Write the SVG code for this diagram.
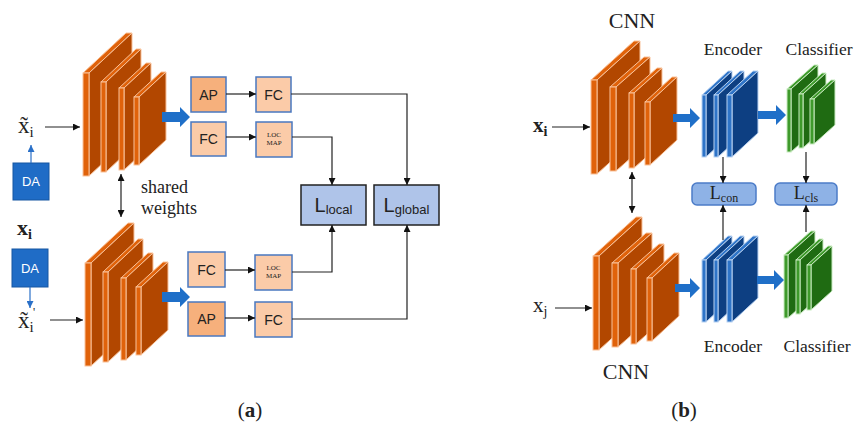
<svg xmlns="http://www.w3.org/2000/svg" width="854" height="426" viewBox="0 0 854 426">
<style>
.bg{fill:#fff}
.os{fill:#B24700;stroke:#F9C29A;stroke-width:1}
.of{fill:#E0620A;stroke:#F9C29A;stroke-width:1}
.bs{fill:#0D3F82;stroke:#B8D2F2;stroke-width:1}
.bf{fill:#2E74C8;stroke:#B8D2F2;stroke-width:1}
.gs{fill:#1F6B12;stroke:#C8EBC0;stroke-width:1}
.gf{fill:#3E9A2B;stroke:#C8EBC0;stroke-width:1}
.ap{fill:#F6B07C;stroke:#4A78C0;stroke-width:1.5}
.fc{fill:#FBCBA8;stroke:#4A78C0;stroke-width:1.5}
.loss{fill:#AFC4E9;stroke:#222;stroke-width:1.5}
.rl{fill:#8EB2E6;stroke:#4C7CC8;stroke-width:1.5}
.da{fill:#1F6CC6;stroke:#1656A2;stroke-width:1}
.blk{fill:#1F6FC8}
.ln{fill:none;stroke:#222;stroke-width:1.2}
.bl{fill:none;stroke:#2A70C8;stroke-width:1.2}
.sans{font-family:"Liberation Sans",Arial,sans-serif;fill:#222}
.serif{font-family:"Liberation Serif","Times New Roman","DejaVu Serif",serif;fill:#222}
</style>
<defs>
<marker id="ah" viewBox="0 0 10 10" refX="10" refY="5" markerWidth="7" markerHeight="7" orient="auto-start-reverse" markerUnits="userSpaceOnUse">
<path d="M0,0 L10,5 L0,10 z" fill="#111"/>
</marker>
<marker id="ahb" viewBox="0 0 10 10" refX="10" refY="5" markerWidth="7" markerHeight="7" orient="auto-start-reverse" markerUnits="userSpaceOnUse">
<path d="M0,0 L10,5 L0,10 z" fill="#2A70C8"/>
</marker>
<g id="lstack">
<polygon class="of" points="83,73 126,33 132,33 89,73"/>
<polygon class="os" points="89,73 132,33 132,136 89,176"/>
<rect class="of" x="83" y="73" width="6" height="103"/>
<polygon class="of" points="101,82 136,49 141,49 106,82"/>
<polygon class="os" points="106,82 141,49 141,139 106,172"/>
<rect class="of" x="101" y="82" width="5" height="90"/>
<polygon class="of" points="119,88 146,63 151,63 124,88"/>
<polygon class="os" points="124,88 151,63 151,145 124,170"/>
<rect class="of" x="119" y="88" width="5" height="82"/>
<polygon class="of" points="134,97 161,72 166,72 139,97"/>
<polygon class="os" points="139,97 166,72 166,140 139,165"/>
<rect class="of" x="134" y="97" width="5" height="68"/>
</g>
<g id="rstack">
<polygon class="of" points="591,80 634,41 640,41 597,80"/>
<polygon class="os" points="597,80 640,41 640,135 597,174"/>
<rect class="of" x="591" y="80" width="6" height="94"/>
<polygon class="of" points="610,87 644,57 650,57 616,87"/>
<polygon class="os" points="616,87 650,57 650,141 616,171"/>
<rect class="of" x="610" y="87" width="6" height="84"/>
<polygon class="of" points="629,93 657,68 662,68 634,93"/>
<polygon class="os" points="634,93 662,68 662,143 634,168"/>
<rect class="of" x="629" y="93" width="5" height="75"/>
<polygon class="of" points="645,102 672,77 677,77 650,102"/>
<polygon class="os" points="650,102 677,77 677,140 650,165"/>
<rect class="of" x="645" y="102" width="5" height="63"/>
</g>
<g id="enc">
<polygon class="bf" points="702,95 728,71 732,71 706,95"/>
<polygon class="bs" points="706,95 732,71 732,133 706,157"/>
<rect class="bf" x="702" y="95" width="4" height="62"/>
<polygon class="bf" points="714,95 740,71 744,71 718,95"/>
<polygon class="bs" points="718,95 744,71 744,133 718,157"/>
<rect class="bf" x="714" y="95" width="4" height="62"/>
<polygon class="bf" points="727,95 753,71 758,71 732,95"/>
<polygon class="bs" points="732,95 758,71 758,133 732,157"/>
<rect class="bf" x="727" y="95" width="5" height="62"/>
</g>
<g id="cls">
<polygon class="gf" points="787,89 814,65 818,65 791,89"/>
<polygon class="gs" points="791,89 818,65 818,128 791,152"/>
<rect class="gf" x="787" y="89" width="4" height="63"/>
<polygon class="gf" points="799,94 822,73 826,73 803,94"/>
<polygon class="gs" points="803,94 826,73 826,127 803,148"/>
<rect class="gf" x="799" y="94" width="4" height="54"/>
<polygon class="gf" points="810,99 831,80 835,80 814,99"/>
<polygon class="gs" points="814,99 835,80 835,125 814,144"/>
<rect class="gf" x="810" y="99" width="4" height="45"/>
</g>
</defs>
<rect class="bg" x="0" y="0" width="854" height="426"/>

<!-- Panel (a) -->
<g id="cnn-a-top"><use href="#lstack"/></g>
<g id="cnn-a-bottom"><use href="#lstack" transform="translate(2,190)"/></g>
<g id="arrow-a-top"><path class="blk" d="M162,112 H180 V107 L190,117 L180,127 V122 H162 Z"/></g>
<g id="arrow-a-bottom"><path class="blk" d="M162,292 H180 V287 L190,297 L180,307 V302 H162 Z"/></g>

<g id="da-top"><rect class="da" x="13" y="163" width="36" height="37"/><text class="sans" x="31" y="186" font-size="13" text-anchor="middle" style="fill:#fff">DA</text></g>
<g id="da-bottom"><rect class="da" x="12" y="249" width="36" height="38"/><text class="sans" x="30" y="273" font-size="13" text-anchor="middle" style="fill:#fff">DA</text></g>

<g id="label-xt"><text class="serif" x="18" y="133" font-size="23">x̃<tspan font-size="15" dy="4">i</tspan></text></g>
<g id="label-xi-a"><text class="serif" x="17" y="235" font-size="22" font-weight="bold">x<tspan font-size="14" dy="4">i</tspan></text></g>
<g id="label-xt2"><text class="serif" x="18" y="328" font-size="23">x̃<tspan font-size="15" dy="4">i</tspan></text><text class="serif" x="33" y="316" font-size="12">'</text></g>
<g id="label-shared"><text class="serif" x="141" y="193" font-size="18">shared</text><text class="serif" x="141" y="214" font-size="18">weights</text></g>

<g id="ap-top"><rect class="ap" x="191" y="77" width="35" height="35"/><text class="sans" x="208.5" y="100" font-size="14" text-anchor="middle">AP</text></g>
<g id="fc-top-l"><rect class="fc" x="191" y="122" width="35" height="34"/><text class="sans" x="208.5" y="144" font-size="14" text-anchor="middle">FC</text></g>
<g id="fc-top-r"><rect class="fc" x="256" y="77" width="35" height="35"/><text class="sans" x="273.5" y="100" font-size="14" text-anchor="middle">FC</text></g>
<g id="loc-top"><rect class="fc" x="256" y="122" width="36" height="35"/><text class="serif" x="274" y="137" font-size="7" text-anchor="middle">LOC</text><text class="serif" x="274" y="145" font-size="7" text-anchor="middle">MAP</text></g>

<g id="fc-bot-l"><rect class="fc" x="188" y="252" width="37" height="35"/><text class="sans" x="206.5" y="275" font-size="14" text-anchor="middle">FC</text></g>
<g id="loc-bot"><rect class="fc" x="255" y="255" width="37" height="35"/><text class="serif" x="273.5" y="270" font-size="7" text-anchor="middle">LOC</text><text class="serif" x="273.5" y="278" font-size="7" text-anchor="middle">MAP</text></g>
<g id="ap-bot"><rect class="ap" x="188" y="302" width="37" height="34"/><text class="sans" x="206.5" y="324" font-size="14" text-anchor="middle">AP</text></g>
<g id="fc-bot-r"><rect class="fc" x="255" y="302" width="37" height="35"/><text class="sans" x="273.5" y="325" font-size="14" text-anchor="middle">FC</text></g>

<g id="l-local"><rect class="loss" x="301" y="185" width="65" height="40"/><text class="sans" x="333.5" y="212" font-size="20" text-anchor="middle">L<tspan font-size="13" dy="2">local</tspan></text></g>
<g id="l-global"><rect class="loss" x="374" y="185" width="65" height="40"/><text class="sans" x="406.5" y="212" font-size="20" text-anchor="middle">L<tspan font-size="13" dy="2">global</tspan></text></g>

<!-- Panel (b) -->
<g id="cnn-b-top"><use href="#rstack"/></g>
<g id="cnn-b-bottom"><use href="#rstack" transform="translate(2,176)"/></g>
<g id="enc-top"><use href="#enc"/></g>
<g id="enc-bottom"><use href="#enc" transform="translate(0,165)"/></g>
<g id="cls-top"><use href="#cls"/></g>
<g id="cls-bottom"><use href="#cls" transform="translate(-3,166)"/></g>
<g id="barrows-b">
<path class="blk" d="M673,114 H690 V108 L700,118 L690,128 V122 H673 Z"/>
<path class="blk" d="M758,111 H776 V105 L786,115 L776,125 V119 H758 Z"/>
<path class="blk" d="M675,284 H690 V278 L700,288 L690,298 V292 H675 Z"/>
<path class="blk" d="M757,276 H774 V270 L784,280 L774,290 V284 H757 Z"/>
</g>
<g id="l-con"><rect class="rl" x="692" y="183" width="64" height="22" rx="5"/><text class="serif" x="724" y="199" font-size="18" text-anchor="middle">L<tspan font-size="12" dy="3">con</tspan></text></g>
<g id="l-cls"><rect class="rl" x="775" y="183" width="62" height="22" rx="5"/><text class="serif" x="806" y="199" font-size="18" text-anchor="middle">L<tspan font-size="12" dy="3">cls</tspan></text></g>

<g id="labels-b">
<text class="serif" x="632" y="28" font-size="22" text-anchor="middle">CNN</text>
<text class="serif" x="626" y="379" font-size="22" text-anchor="middle">CNN</text>
<text class="serif" x="733" y="55" font-size="17.5" text-anchor="middle">Encoder</text>
<text class="serif" x="819" y="55" font-size="17.5" text-anchor="middle">Classifier</text>
<text class="serif" x="733" y="352" font-size="17.5" text-anchor="middle">Encoder</text>
<text class="serif" x="817" y="352" font-size="17.5" text-anchor="middle">Classifier</text>
<text class="serif" x="533" y="132" font-size="21" font-weight="bold">x<tspan font-size="14" dy="4">i</tspan></text>
<text class="serif" x="533" y="312" font-size="21">x<tspan font-size="14" dy="4">j</tspan></text>
</g>

<g id="captions">
<text class="serif" x="250" y="417" font-size="21" text-anchor="middle">(<tspan font-weight="bold">a</tspan>)</text>
<text class="serif" x="684" y="417" font-size="21" text-anchor="middle">(<tspan font-weight="bold">b</tspan>)</text>
</g>

<g id="connectors">
<line class="ln" x1="45" y1="127" x2="80" y2="127" marker-end="url(#ah)"/>
<line class="bl" x1="31" y1="163" x2="31" y2="145" marker-end="url(#ahb)"/>
<line class="bl" x1="30" y1="287" x2="30" y2="308" marker-end="url(#ahb)"/>
<line class="ln" x1="50" y1="320" x2="83" y2="320" marker-end="url(#ah)"/>
<line class="ln" x1="121" y1="174" x2="121" y2="217" marker-start="url(#ah)" marker-end="url(#ah)"/>
<line class="ln" x1="226" y1="94" x2="256" y2="94" marker-end="url(#ah)"/>
<line class="ln" x1="226" y1="137" x2="256" y2="137" marker-end="url(#ah)"/>
<polyline class="ln" points="291,94 407,94 407,185" marker-end="url(#ah)"/>
<polyline class="ln" points="292,137 332,137 332,185" marker-end="url(#ah)"/>
<line class="ln" x1="225" y1="270" x2="255" y2="270" marker-end="url(#ah)"/>
<line class="ln" x1="225" y1="318" x2="255" y2="318" marker-end="url(#ah)"/>
<polyline class="ln" points="292,272 332,272 332,225" marker-end="url(#ah)"/>
<polyline class="ln" points="292,319 407,319 407,225" marker-end="url(#ah)"/>
<line class="ln" x1="552" y1="127" x2="590" y2="127" marker-end="url(#ah)"/>
<line class="ln" x1="555" y1="308" x2="592" y2="308" marker-end="url(#ah)"/>
<line class="ln" x1="632" y1="172" x2="632" y2="213" marker-start="url(#ah)" marker-end="url(#ah)"/>
<line class="ln" x1="723" y1="157" x2="723" y2="183" marker-end="url(#ah)"/>
<line class="ln" x1="806" y1="152" x2="806" y2="183" marker-end="url(#ah)"/>
<line class="ln" x1="723" y1="240" x2="723" y2="205" marker-end="url(#ah)"/>
<line class="ln" x1="806" y1="232" x2="806" y2="205" marker-end="url(#ah)"/>
</g>
</svg>
